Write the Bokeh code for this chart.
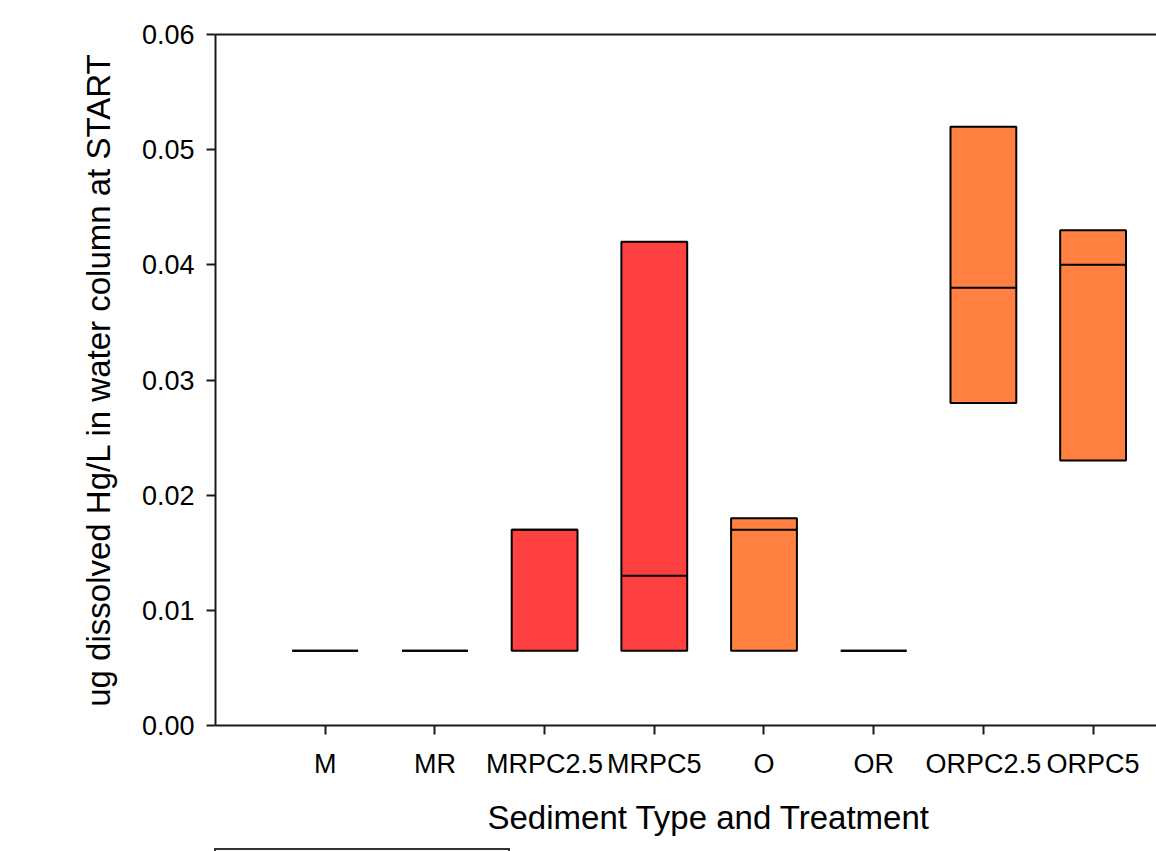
from bokeh.plotting import figure
from bokeh.models import FixedTicker, LinearAxis, Range1d, Div, ColumnDataSource, Title
from bokeh.layouts import column
from bokeh.embed import file_html
from bokeh.resources import INLINE

# ---- data ----
categories = ["M", "MR", "MRPC2.5", "MRPC5", "O", "OR", "ORPC2.5", "ORPC5"]
positions = [1, 2, 3, 4, 5, 6, 7, 8]
q1 = [0.0065, 0.0065, 0.0065, 0.0065, 0.0065, 0.0065, 0.028, 0.023]
median = [0.0065, 0.0065, 0.017, 0.013, 0.017, 0.0065, 0.038, 0.040]
q3 = [0.0065, 0.0065, 0.017, 0.042, 0.018, 0.0065, 0.052, 0.043]
colors = ["#FF4040", "#FF4040", "#FF4040", "#FF4040", "#FF8040", "#FF8040", "#FF8040", "#FF8040"]
y_ticks = [0.00, 0.01, 0.02, 0.03, 0.04, 0.05, 0.06]
y_tick_labels = ["0.00", "0.01", "0.02", "0.03", "0.04", "0.05", "0.06"]

FONT = "Liberation Sans"

src = ColumnDataSource(dict(x=positions, q1=q1, med=median, q3=q3, color=colors))

p = figure(width=1156, height=851, output_backend="svg", toolbar_location=None,
           x_range=Range1d(0, 8.578), y_range=Range1d(0, 0.06),
           min_border_left=215, min_border_right=0, min_border_top=34, min_border_bottom=126)
p.outline_line_color = None
p.grid.visible = False
p.background_fill_color = "white"
p.border_fill_color = "white"

p.vbar(x="x", bottom="q1", top="q3", width=0.6, fill_color="color",
       line_color="black", line_width=2, source=src)
p.vbar(x="x", bottom="med", top="med", width=0.6, fill_color=None,
       line_color="black", line_width=2, source=src)

# x axis
xa = p.xaxis[0]
xa.ticker = FixedTicker(ticks=positions)
xa.major_label_overrides = {pos: lab for pos, lab in zip(positions, categories)}
xa.minor_tick_line_color = None
xa.major_tick_in = 0
xa.major_tick_out = 9
xa.major_label_standoff = 14

# y axis
ya = p.yaxis[0]
ya.ticker = FixedTicker(ticks=y_ticks)
ya.major_label_overrides = {t: l for t, l in zip(y_ticks, y_tick_labels)}
ya.minor_tick_line_color = None
ya.major_tick_in = 0
ya.major_tick_out = 9
ya.major_label_standoff = 12
ya.axis_label = "ug dissolved Hg/L in water column at START"
ya.axis_label_standoff = 22

for ax in (xa, ya):
    ax.axis_line_width = 2
    ax.axis_line_color = "#1a1a1a"
    ax.major_tick_line_width = 2
    ax.major_tick_line_color = "#1a1a1a"
    ax.major_label_text_font = FONT
    ax.major_label_text_font_size = "27px"
    ax.major_label_text_color = "black"
    ax.axis_label_text_font = FONT
    ax.axis_label_text_font_size = "33px"
    ax.axis_label_text_font_style = "normal"
    ax.axis_label_text_color = "black"

# x-axis title, positioned as on the full (partly cropped) frame
xtitle = Title(text="Sediment Type and Treatment", align="left", offset=272,
               text_font=FONT, text_font_size="33px", text_font_style="normal",
               text_color="black", standoff=31)
p.add_layout(xtitle, "below")

# top frame line
top = LinearAxis(ticker=FixedTicker(ticks=[]), major_label_text_font_size="0px",
                 major_tick_out=0, major_tick_in=0, minor_tick_out=0, minor_tick_in=0,
                 axis_line_width=2, axis_line_color="#1a1a1a", major_label_standoff=0)
p.add_layout(top, "above")

legend_box = Div(text="", width=296, height=20, margin=(-3, 0, 0, 214),
                 styles={"border": "2px solid #333", "box-sizing": "border-box"})

layout = column(p, legend_box, spacing=0)

open("out.html", "w").write(file_html(layout, INLINE))
